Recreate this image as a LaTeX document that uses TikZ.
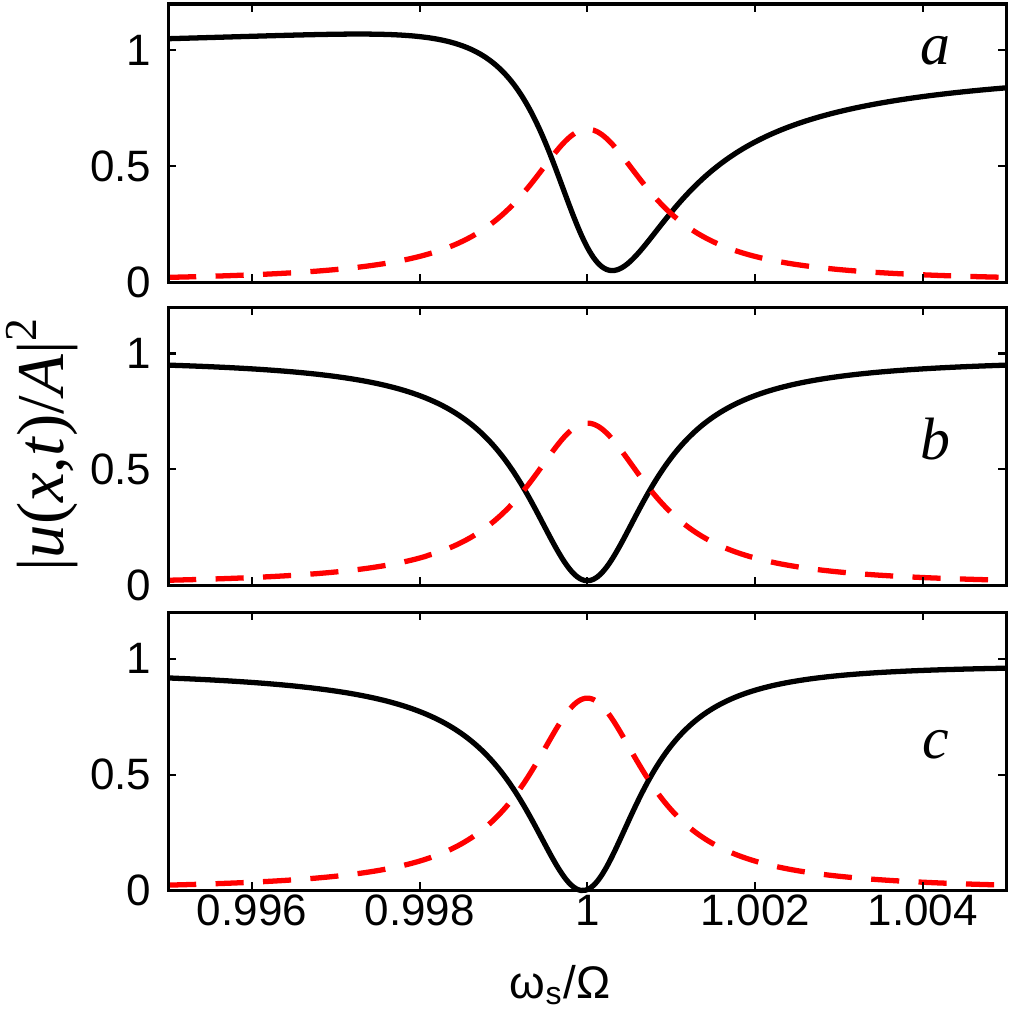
\documentclass[tikz,border=0pt]{standalone}
\usepackage{fontspec}
\setmainfont{Liberation Sans}
\newfontfamily\serifit{Liberation Serif}
\begin{document}
\begin{tikzpicture}[x=0.01cm,y=0.01cm,
  black curve/.style={line width=1.5pt,black},
  red curve/.style={line width=1.5pt,red,dash pattern=on 8pt off 5.5pt},
  tick label/.style={font=\fontsize{12.5}{12.5}\selectfont,inner sep=1pt},
  panel label/.style={font=\fontsize{17}{17}\selectfont\serifit\itshape}]
\useasboundingbox (0,0) rectangle (1010,-1012);
% panels: name, bottom, k, q, g, m, h, gr, label y
\foreach \nm/\bot/\k/\q/\g/\m/\h/\gr/\ly in {a/-2.82/0.92/-0.33/0.9/0.05/0.66/0.9/1.0, b/-5.85/0.96/0/0.9/0.02/0.70/0.9/0.63, c/-8.90/0.965/0.066/0.85/0/0.83/0.85/0.63}{
  \begin{scope}[shift={(5.87cm,\bot cm)},x=0.838cm,y=2.317cm]
    \draw[black curve] plot[domain=-5:5,samples=200,smooth] (\x,{\k*(\x/\g+\q)^2/(1+(\x/\g)^2)+\m});
    \draw[red curve] plot[domain=-5:5,samples=200,smooth] (\x,{\h/(1+(\x/\gr)^2)});
    \draw[line width=0.9pt] (-5,0) rectangle (5,1.2);
    \foreach \t in {-4,-2,0,2,4}{
      \draw[line width=0.6pt] (\t,0) -- ++(0,0.035);
      \draw[line width=0.6pt] (\t,1.2) -- ++(0,-0.035);
    }
    \foreach \v in {0,0.5,1}{
      \draw[line width=0.6pt] (-5,\v) -- ++(0.1,0);
      \draw[line width=0.6pt] (5,\v) -- ++(-0.1,0);
      \node[tick label,anchor=east] at (-5.15,\v) {\v};
    }
    \node[panel label] (lab\nm) at (4.15,\ly) {\nm};
  \end{scope}
}
\begin{scope}[shift={(5.87cm,-8.90cm)},x=0.838cm]
  \foreach \t/\s in {-4/0.996,-2/0.998,0/1,2/1.002,4/1.004}
    \node[tick label,anchor=north] at (\t,-0.25) {\s};
\end{scope}
\node[font=\fontsize{13}{13}\selectfont] (xlab) at (560,-985) {ω\textsubscript{s}/Ω};
\node[rotate=90,font=\fontsize{19}{19}\selectfont\serifit] (ylab) at (42,-445) {|\textit{u}(\textit{x},\textit{t})/\textit{A}|\raisebox{0.9ex}{\fontsize{13}{13}\selectfont 2}};
\end{tikzpicture}
\end{document}
